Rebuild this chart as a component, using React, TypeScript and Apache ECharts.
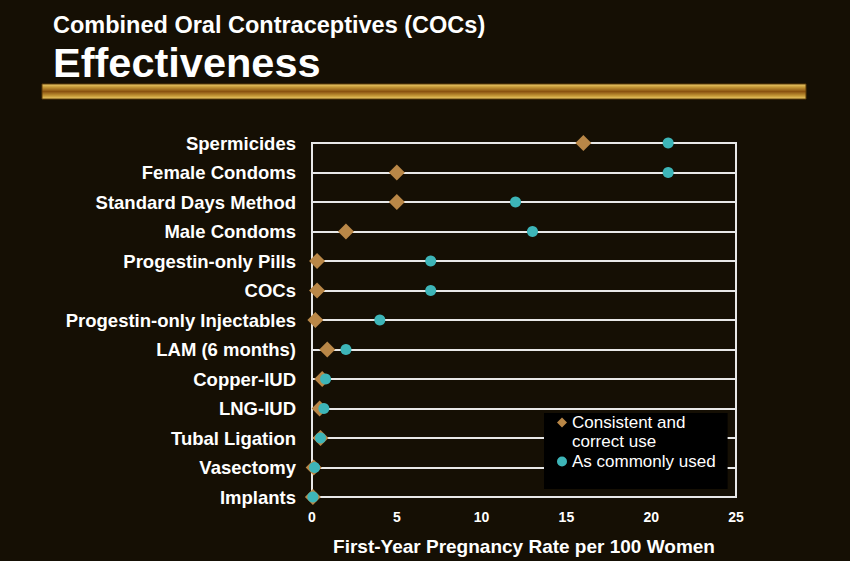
import React, { useEffect, useRef } from "react";
import * as echarts from "echarts";

const methods = [
  "Spermicides",
  "Female Condoms",
  "Standard Days Method",
  "Male Condoms",
  "Progestin-only Pills",
  "COCs",
  "Progestin-only Injectables",
  "LAM (6 months)",
  "Copper-IUD",
  "LNG-IUD",
  "Tubal Ligation",
  "Vasectomy",
  "Implants",
];
const perfectUse = [16, 5, 5, 2, 0.3, 0.3, 0.2, 0.9, 0.6, 0.45, 0.5, 0.1, 0.05];
const typicalUse = [21, 21, 12, 13, 7, 7, 4, 2, 0.8, 0.7, 0.5, 0.15, 0.05];
const xTicks = [0, 5, 10, 15, 20, 25];

const FONT = "'Liberation Sans', Arial, Helvetica, sans-serif";
const BG = "#150f04";
const SERIES_A = "Consistent and correct use";
const SERIES_B = "As commonly used";

// legend icons: shape placed inside a 10x29 box so it lines up with the first text line
const ICON_DIAMOND = "path://M5,0 L10,5 L5,10 L0,5 Z M5,29 L5,29";
const ICON_CIRCLE =
  "path://M5,0 L5,0 M0,14.5 A5,5 0 1,1 10,14.5 A5,5 0 1,1 0,14.5 Z M5,29 L5,29";

export default function App() {
  const ref = useRef<HTMLDivElement>(null);
  useEffect(() => {
    if (!ref.current) return;
    const chart = echarts.init(ref.current, null, { renderer: "svg" });
    chart.setOption({
      animation: false,
      backgroundColor: BG,
      title: [
        {
          text: "Combined Oral Contraceptives (COCs)",
          left: 48,
          top: 8,
          textStyle: { color: "#ffffff", fontFamily: FONT, fontWeight: "bold", fontSize: 23.5 },
        },
        {
          text: "Effectiveness",
          left: 48,
          top: 36,
          textStyle: { color: "#ffffff", fontFamily: FONT, fontWeight: "bold", fontSize: 41.5 },
        },
      ],
      graphic: [
        {
          type: "rect",
          shape: { x: 42, y: 84, width: 764, height: 15 },
          style: {
            fill: new echarts.graphic.LinearGradient(0, 0, 0, 1, [
              { offset: 0, color: "#f0d070" },
              { offset: 0.2, color: "#c79a38" },
              { offset: 0.5, color: "#8a5210" },
              { offset: 0.8, color: "#c79a38" },
              { offset: 1, color: "#f0d070" },
            ]),
            stroke: "#5a3a08",
            lineWidth: 1,
          },
        },
      ],
      grid: {
        left: 312,
        right: 114,
        top: 143,
        bottom: 61,
        show: true,
        borderColor: "#e8e8e8",
        borderWidth: 2,
        backgroundColor: "transparent",
      },
      legend: {
        orient: "vertical",
        left: 544,
        top: 413,
        backgroundColor: "#000000",
        padding: [0, 12, 13, 13],
        itemGap: -4,
        itemWidth: 10,
        itemHeight: 29,
        textStyle: { color: "#ffffff", fontFamily: FONT, fontSize: 17, lineHeight: 19 },
        data: [
          { name: SERIES_A, icon: ICON_DIAMOND },
          { name: SERIES_B, icon: ICON_CIRCLE },
        ],
        formatter: (n: string) => (n === SERIES_A ? "Consistent and\ncorrect use" : n),
      },
      xAxis: {
        type: "value",
        min: xTicks[0],
        max: xTicks[xTicks.length - 1],
        interval: 5,
        name: "First-Year Pregnancy Rate per 100 Women",
        nameLocation: "middle",
        nameGap: 40,
        nameTextStyle: { color: "#ffffff", fontFamily: FONT, fontWeight: "bold", fontSize: 19 },
        axisLine: { show: false },
        axisTick: { show: false },
        splitLine: { show: false },
        axisLabel: { color: "#ffffff", fontFamily: FONT, fontWeight: "bold", fontSize: 14, margin: 13 },
      },
      yAxis: {
        type: "category",
        data: methods,
        inverse: true,
        boundaryGap: false,
        axisLine: { show: false },
        axisTick: { show: false },
        splitLine: { show: true, lineStyle: { color: "#e8e8e8", width: 2 } },
        axisLabel: { color: "#ffffff", fontFamily: FONT, fontWeight: "bold", fontSize: 18.5, margin: 16 },
      },
      series: [
        {
          name: SERIES_A,
          type: "scatter",
          symbol: "diamond",
          symbolSize: 16,
          itemStyle: { color: "#b98747", opacity: 1 },
          data: perfectUse.map((v, i) => [v, methods[i]]),
        },
        {
          name: SERIES_B,
          type: "scatter",
          symbol: "circle",
          symbolSize: 11,
          itemStyle: { color: "#3db5b8", opacity: 1 },
          data: typicalUse.map((v, i) => [v, methods[i]]),
        },
      ],
    });
    return () => chart.dispose();
  }, []);
  return (
    <div
      ref={ref}
      style={{ position: "absolute", left: 0, top: 0, width: 850, height: 561 }}
    />
  );
}
